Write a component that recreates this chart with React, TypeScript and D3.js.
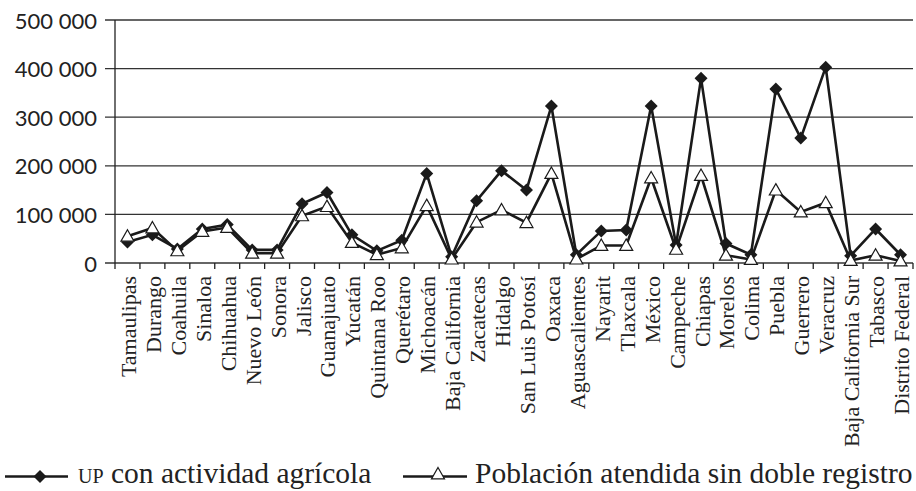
import React from "react";
import * as d3 from "d3";

const states = [
  "Tamaulipas", "Durango", "Coahuila", "Sinaloa", "Chihuahua", "Nuevo León", "Sonora",
  "Jalisco", "Guanajuato", "Yucatán", "Quintana Roo", "Querétaro", "Michoacán",
  "Baja California", "Zacatecas", "Hidalgo", "San Luis Potosí", "Oaxaca", "Aguascalientes",
  "Nayarit", "Tlaxcala", "México", "Campeche", "Chiapas", "Morelos", "Colima", "Puebla",
  "Guerrero", "Veracruz", "Baja California Sur", "Tabasco", "Distrito Federal",
];

const upAgricola = [
  43000, 58000, 29000, 70000, 79000, 27000, 27000, 122000, 145000, 58000, 25000, 47000,
  184000, 13000, 128000, 190000, 150000, 323000, 17000, 66000, 68000, 323000, 37000, 380000,
  40000, 17000, 358000, 257000, 403000, 15000, 70000, 17000,
];

const poblacion = [
  55000, 72000, 25000, 65000, 73000, 20000, 20000, 97000, 116000, 42000, 17000, 31000,
  118000, 8000, 84000, 109000, 83000, 184000, 8000, 36000, 36000, 175000, 28000, 180000,
  16000, 7000, 150000, 105000, 124000, 5000, 16000, 4000,
];

const yTicks = [0, 100000, 200000, 300000, 400000, 500000];

const W = 916;
const H = 491;
const left = 115;
const right = 913;
const top = 20;
const bottom = 263;

const serif = "'Liberation Serif', serif";
const sans = "Lato, 'Open Sans', sans-serif";

function fmt(v: number) {
  if (v === 0) return "0";
  const s = String(v);
  return s.slice(0, s.length - 3) + " " + s.slice(s.length - 3);
}

export default function App() {
  const x = d3.scaleBand<string>().domain(states).range([left, right]);
  const y = d3.scaleLinear().domain([0, 500000]).range([bottom, top]);
  const cx = (s: string) => (x(s) as number) + x.bandwidth() / 2;

  const line = d3
    .line<number>()
    .x((_, i) => cx(states[i]))
    .y((d) => y(d));

  const diamond = (px: number, py: number, r = 6.5) =>
    `M${px},${py - r}L${px + r},${py}L${px},${py + r}L${px - r},${py}Z`;
  const triangle = (px: number, py: number, r = 6.5) =>
    `M${px},${py - r}L${px + r},${py + r * 0.75}L${px - r},${py + r * 0.75}Z`;

  const boundaries = states.map((s) => x(s) as number).concat([right]);

  return (
    <svg
      width={W}
      height={H}
      style={{ position: "absolute", left: 0, top: 0, background: "#fff" }}
    >
      {yTicks.map((t) => (
        <g key={t}>
          <line x1={left - 10} x2={right} y1={y(t)} y2={y(t)} stroke="#333" strokeWidth={1.3} />
          <text
            x={97}
            y={y(t)}
            textAnchor="end"
            dominantBaseline="central"
            fontFamily={sans}
            fontSize={22}
            fill="#222"
          >
            {fmt(t)}
          </text>
        </g>
      ))}
      <line x1={left} x2={left} y1={top} y2={bottom} stroke="#222" strokeWidth={1.3} />
      {boundaries.map((b, i) => (
        <line key={i} x1={b} x2={b} y1={bottom} y2={bottom + 6} stroke="#222" strokeWidth={1.3} />
      ))}
      {states.map((s) => (
        <text
          key={s}
          transform={`translate(${cx(s) + 1},${bottom + 13}) rotate(-90)`}
          textAnchor="end"
          dominantBaseline="central"
          fontFamily={serif}
          fontSize={22}
          fill="#222"
        >
          {s}
        </text>
      ))}
      <path d={line(upAgricola) || ""} fill="none" stroke="#1a1a1a" strokeWidth={2.6} />
      {upAgricola.map((v, i) => (
        <path key={i} d={diamond(cx(states[i]), y(v))} fill="#1a1a1a" />
      ))}
      <path d={line(poblacion) || ""} fill="none" stroke="#1a1a1a" strokeWidth={2.6} />
      {poblacion.map((v, i) => (
        <path key={i} d={triangle(cx(states[i]), y(v))} fill="#fff" stroke="#1a1a1a" strokeWidth={1.2} />
      ))}
      <line x1={5} x2={68} y1={476.5} y2={476.5} stroke="#1a1a1a" strokeWidth={2.6} />
      <path d={diamond(40, 476.5)} fill="#1a1a1a" />
      <text x={78} y={483} fontFamily={serif} fontSize={29.5} fill="#222">
        <tspan fontSize={20}>UP</tspan>
        <tspan> con actividad agrícola</tspan>
      </text>
      <line x1={403} x2={467} y1={476.5} y2={476.5} stroke="#1a1a1a" strokeWidth={2.6} />
      <path d={triangle(438, 474)} fill="#fff" stroke="#1a1a1a" strokeWidth={1.2} />
      <text x={475} y={483} fontFamily={serif} fontSize={29.5} fill="#222">
        Población atendida sin doble registro
      </text>
    </svg>
  );
}
